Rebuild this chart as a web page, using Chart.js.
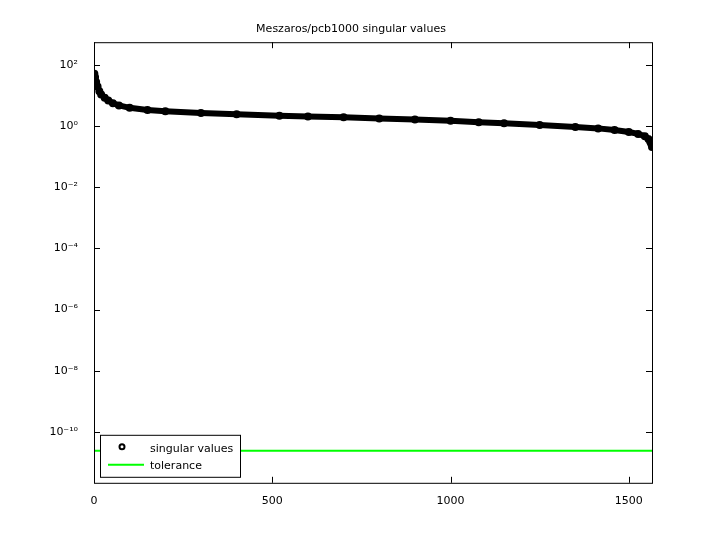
<!DOCTYPE html>
<html>
<head>
<meta charset="utf-8">
<script src="https://cdn.jsdelivr.net/npm/chart.js@4/dist/chart.umd.min.js"></script>
<style>
    html, body { margin: 0; padding: 0; background: #fff; }
    #wrap { width: 720px; height: 540px; }
</style>
</head>
<body>
<div id="wrap"><canvas id="c" width="720" height="540"></canvas></div>
<script>
//Индексы сингулярных чисел
const svIndex = [1, 3, 6, 10, 15, 20, 30, 40, 53, 70, 100, 150, 200, 300, 400, 520, 600, 700, 800, 900, 1000, 1079, 1150, 1250, 1350, 1414, 1460, 1500, 1526, 1545, 1555, 1560, 1563, 1565];
//Значения сингулярных чисел
const svValue = [52, 40, 28, 20, 14, 11, 8.6, 7.0, 5.6, 4.8, 4.0, 3.4, 3.1, 2.7, 2.45, 2.2, 2.1, 1.95, 1.8, 1.65, 1.5, 1.35, 1.25, 1.1, 0.95, 0.85, 0.75, 0.65, 0.56, 0.47, 0.38, 0.31, 0.26, 0.21];
//Допуск
const tolIndex = [0, 1565];
const tolValue = [2.4e-11, 2.4e-11];
//Подписи делений
const xTicks = [0, 500, 1000, 1500];
const yTicks = [2, 0, -2, -4, -6, -8, -10];

const sup = { "-": "⁻", "0": "⁰", "1": "¹", "2": "²", "3": "³", "4": "⁴", "5": "⁵", "6": "⁶", "7": "⁷", "8": "⁸", "9": "⁹" };
const toSup = n => String(n).split("").map(ch => sup[ch]).join("");

//Рамка, внутренние деления и легенда
const framePlugin = {
    id: "frame",
    afterDraw(chart) {
        const { ctx, chartArea: a, scales } = chart;
        ctx.save();
        ctx.strokeStyle = "#000";
        ctx.lineWidth = 1;
        ctx.strokeRect(a.left + 0.5, a.top + 0.5, a.right - a.left, a.bottom - a.top);
        ctx.beginPath();
        xTicks.forEach(v => {
            const x = Math.round(scales.x.getPixelForValue(v)) + 0.5;
            ctx.moveTo(x, a.bottom); ctx.lineTo(x, a.bottom - 6);
            ctx.moveTo(x, a.top); ctx.lineTo(x, a.top + 6);
        });
        yTicks.forEach(e => {
            const y = Math.round(scales.y.getPixelForValue(Math.pow(10, e))) + 0.5;
            ctx.moveTo(a.left, y); ctx.lineTo(a.left + 6, y);
            ctx.moveTo(a.right, y); ctx.lineTo(a.right - 6, y);
        });
        ctx.stroke();
        //Легенда
        const lx = a.left + 6, ly = a.bottom - 48;
        ctx.fillStyle = "#fff";
        ctx.fillRect(lx, ly, 140, 42);
        ctx.strokeRect(lx + 0.5, ly + 0.5, 140, 42);
        ctx.beginPath();
        ctx.lineWidth = 2;
        ctx.arc(lx + 22, ly + 12, 2.5, 0, Math.PI * 2);
        ctx.stroke();
        ctx.strokeStyle = "#00ff00";
        ctx.beginPath();
        ctx.moveTo(lx + 8, ly + 30); ctx.lineTo(lx + 44, ly + 30);
        ctx.stroke();
        ctx.fillStyle = "#000";
        ctx.font = "11px 'DejaVu Sans'";
        ctx.textBaseline = "middle";
        ctx.fillText("singular values", lx + 50, ly + 14);
        ctx.fillText("tolerance", lx + 50, ly + 31);
        ctx.restore();
    }
};

new Chart(document.getElementById("c"), {
    type: "scatter",
    data: {
        datasets: [
            {
                label: "singular values",
                data: svIndex.map((x, i) => ({ x, y: svValue[i] })),
                showLine: true,
                borderColor: "#000",
                borderWidth: 6,
                backgroundColor: "#000",
                pointRadius: 3,
                pointBorderWidth: 2,
                pointStyle: "circle"
            },
            {
                label: "tolerance",
                data: tolIndex.map((x, i) => ({ x, y: tolValue[i] })),
                showLine: true,
                borderColor: "#00ff00",
                borderWidth: 2,
                pointRadius: 0
            }
        ]
    },
    options: {
        responsive: false,
        animation: false,
        layout: { padding: { left: 50, right: 68, top: 0, bottom: 28 } },
        plugins: {
            legend: { display: false },
            tooltip: { enabled: false },
            title: {
                display: true,
                text: "Meszaros/pcb1000 singular values",
                color: "#000",
                font: { family: "DejaVu Sans", size: 11, weight: "normal" },
                padding: { top: 23, bottom: 6 }
            }
        },
        scales: {
            x: {
                type: "linear",
                min: 0,
                max: 1565,
                afterBuildTicks: s => { s.ticks = xTicks.map(v => ({ value: v })); },
                grid: { display: false },
                border: { display: false },
                ticks: { color: "#000", font: { family: "DejaVu Sans", size: 11 }, padding: 4, callback: v => String(v) }
            },
            y: {
                type: "logarithmic",
                min: Math.pow(10, -11.67),
                max: Math.pow(10, 2.75),
                afterBuildTicks: s => { s.ticks = yTicks.map(e => ({ value: Math.pow(10, e) })); },
                grid: { display: false },
                border: { display: false },
                ticks: {
                    color: "#000",
                    font: { family: "DejaVu Sans", size: 11 },
                    padding: 8,
                    callback: v => "10" + toSup(Math.round(Math.log10(v)))
                },
                afterFit: s => { s.width = 44; }
            }
        }
    },
    plugins: [framePlugin]
});
</script>
</body>
</html>
